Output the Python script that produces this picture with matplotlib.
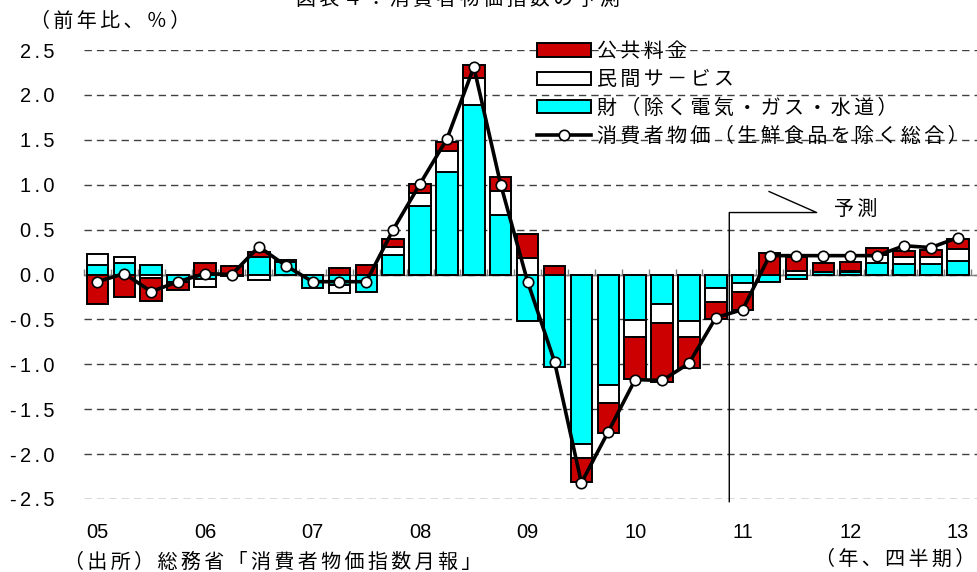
import numpy as np
import matplotlib
matplotlib.use("Agg")
import matplotlib.pyplot as plt
from matplotlib.patches import Patch
from matplotlib.lines import Line2D

plt.rcParams['lines.scale_dashes'] = False

# ---------------- data ----------------
quarters = ['05Q1', '05Q2', '05Q3', '05Q4', '06Q1', '06Q2', '06Q3', '06Q4',
            '07Q1', '07Q2', '07Q3', '07Q4', '08Q1', '08Q2', '08Q3', '08Q4',
            '09Q1', '09Q2', '09Q3', '09Q4', '10Q1', '10Q2', '10Q3', '10Q4',
            '11Q1', '11Q2', '11Q3', '11Q4', '12Q1', '12Q2', '12Q3', '12Q4',
            '13Q1']
year_labels = ['05', '06', '07', '08', '09', '10', '11', '12', '13']

goods = [0.11, 0.13, 0.11, -0.08, -0.05, -0.02, 0.20, 0.14,
         -0.15, -0.12, -0.20, 0.22, 0.76, 1.14, 1.89, 0.66,
         -0.52, -1.03, -1.885, -1.23, -0.51, -0.33, -0.52, -0.15,
         -0.10, -0.08, -0.05, 0.03, 0.03, 0.125, 0.12, 0.12,
         0.145]
services = [0.12, 0.07, -0.04, 0.0, -0.09, 0.0, -0.06, 0.0,
            0.0, -0.09, 0.0, 0.09, 0.15, 0.24, 0.30, 0.27,
            0.18, 0.0, -0.16, -0.20, -0.19, -0.205, -0.18, -0.16,
            -0.09, 0.0, 0.04, 0.0, 0.01, 0.09, 0.075, 0.075,
            0.135]
public = [-0.33, -0.25, -0.26, -0.09, 0.13, 0.09, 0.05, 0.02,
          0.0, 0.07, 0.11, 0.09, 0.10, 0.09, 0.14, 0.16,
          0.27, 0.09, -0.265, -0.33, -0.465, -0.665, -0.34, -0.18,
          -0.20, 0.24, 0.16, 0.10, 0.10, 0.075, 0.07, 0.08,
          0.12]
core_cpi = [-0.08, 0.01, -0.19, -0.08, 0.01, 0.0, 0.31, 0.10,
            -0.08, -0.08, -0.08, 0.50, 1.01, 1.51, 2.31, 1.00,
            -0.08, -0.97, -2.32, -1.75, -1.17, -1.18, -0.99, -0.48,
            -0.39, 0.21, 0.21, 0.21, 0.21, 0.21, 0.32, 0.30,
            0.41]
y_ticks = [-2.5, -2.0, -1.5, -1.0, -0.5, 0.0, 0.5, 1.0, 1.5, 2.0, 2.5]

labels = {
    'public': '公共料金',
    'services': '民間サ－ビス',
    'goods': '財（除く電気・ガス・水道）',
    'cpi': '消費者物価（生鮮食品を除く総合）',
}
title = '図表４：消費者物価指数の予測'
unit_label = '（前年比、％）'
source = '（出所）総務省「消費者物価指数月報」'
period_label = '（年、四半期）'
forecast_label = '予測'

# ---------------- style ----------------
RED = '#CC0000'
CYAN = '#00FFFF'
WHITE = '#FFFFFF'
JP = ['Noto Sans CJK JP', 'DejaVu Sans']
LAT = ['Liberation Sans', 'DejaVu Sans']
FS = 14.4


def sp(s, ch='\u2006'):
    return ch.join(s)


W, H = 977, 572
fig = plt.figure(figsize=(W / 100, H / 100), dpi=100)
ax = fig.add_axes([84 / W, 1 - 499 / H, 1 - 84 / W, (499 - 50) / H])

x = np.arange(len(quarters))
pos_base = np.zeros(len(x))
neg_base = np.zeros(len(x))
for vals, col in [(goods, CYAN), (services, WHITE), (public, RED)]:
    v = np.asarray(vals, dtype=float)
    bottom = np.where(v >= 0, pos_base, neg_base)
    ax.bar(x, v, 0.8, bottom=bottom, color=col, edgecolor='black',
           linewidth=1.4, zorder=3)
    pos_base = pos_base + np.where(v > 0, v, 0)
    neg_base = neg_base + np.where(v < 0, v, 0)

ax.plot(x, core_cpi, color='black', lw=2.6, marker='o', ms=7.5,
        mfc='white', mec='black', mew=1.2, zorder=5)

ax.set_xlim(-0.5, (977 - 97) / 26.9)
ax.set_ylim(-2.5, 2.5)

# grid
ax.set_yticks(y_ticks)
ax.set_yticklabels([sp(f'{t:.1f}') for t in y_ticks], family=LAT, fontsize=FS)
ax.yaxis.grid(True, color='#404040', linewidth=1.0, linestyle=(0, (5.3, 3.6)), zorder=0)
ax.tick_params(axis='y', length=0, pad=21)

for s in ['left', 'right', 'bottom']:
    ax.spines[s].set_visible(False)
ax.spines['top'].set_position(('data', 0))
ax.spines['top'].set_color('#808080')
ax.spines['top'].set_linewidth(1.0)
ax.spines['top'].set_zorder(2)

ax.set_xticks(x[::4])
ax.set_xticklabels(year_labels, family=LAT, fontsize=FS)
ax.set_xticks(np.arange(-0.5, len(x), 1.0), minor=True)
ax.tick_params(axis='x', which='major', length=0, pad=17, top=False, bottom=True)
ax.tick_params(axis='x', which='minor', top=True, bottom=False, direction='out',
               length=4, width=1.0, color='#808080')

# forecast marker
ax.plot([23.5, 23.5, 26.75, 24.98], [-2.53, 0.69, 0.69, 0.924], color='black',
        lw=1.0, clip_on=False, zorder=4)
ax.text(27.4, 0.72, sp(forecast_label), family=JP, fontsize=FS, va='center', ha='left')

# legend
handles = [
    Patch(facecolor=RED, edgecolor='black', linewidth=1.4),
    Patch(facecolor=WHITE, edgecolor='black', linewidth=1.4),
    Patch(facecolor=CYAN, edgecolor='black', linewidth=1.4),
    Line2D([], [], color='black', lw=2.6, marker='o', ms=7.5, mfc='white', mec='black', mew=1.2),
]
leg = fig.legend(handles, [sp(labels[k]) for k in ['public', 'services', 'goods', 'cpi']],
                 loc='upper left', bbox_to_anchor=(537 / W, 1 - 41 / H),
                 frameon=False, borderpad=0, borderaxespad=0, handlelength=2.7,
                 handleheight=0.65, handletextpad=0.3, labelspacing=0.37,
                 prop={'family': JP, 'size': FS})

# texts
fig.text(296 / W, 1 + 1 / H, sp(title), family=JP, fontsize=FS, ha='left', va='center')
fig.text(30 / W, 1 - 21 / H, sp(unit_label), family=JP, fontsize=FS, ha='left', va='center')
fig.text(64 / W, 1 - 562 / H, sp(source), family=JP, fontsize=FS, ha='left', va='center')
fig.text(975 / W, 1 - 559 / H, sp(period_label), family=JP, fontsize=FS, ha='right', va='center')

fig.savefig('out.png', dpi=100)
